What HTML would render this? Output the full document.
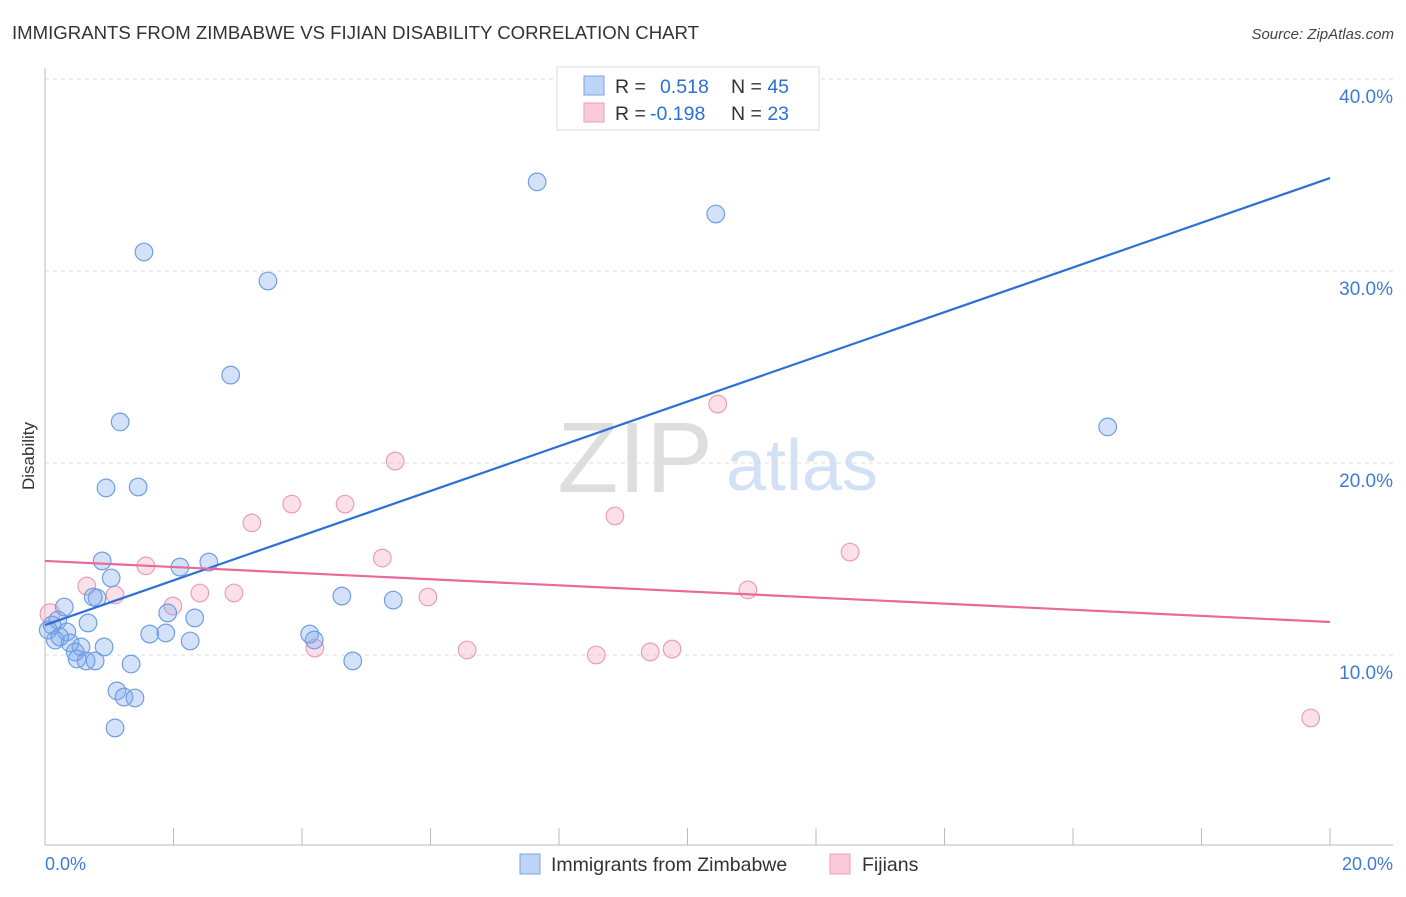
<!DOCTYPE html>
<html><head><meta charset="utf-8"><style>
body{margin:0;background:#fff;font-family:"Liberation Sans",sans-serif;}
svg text{font-family:"Liberation Sans",sans-serif;}
</style></head><body>
<svg id="chart" width="1406" height="892" viewBox="0 0 1406 892" xmlns="http://www.w3.org/2000/svg">
<text x="12" y="39" font-size="18.6" fill="#333">IMMIGRANTS FROM ZIMBABWE VS FIJIAN DISABILITY CORRELATION CHART</text>
<text x="1394" y="39" font-size="15" fill="#444" text-anchor="end" font-style="italic">Source: ZipAtlas.com</text>
<g>
<text x="635" y="492" font-size="100" fill="#dedede" text-anchor="middle" font-family="Liberation Serif,serif">ZIP</text>
<text x="802" y="490" font-size="72" fill="#d3e1f5" text-anchor="middle">atlas</text>
</g>
<g id="grid"></g>
<line x1="45" y1="68" x2="45" y2="845" stroke="#bbb" stroke-width="1"/>
<line x1="45" y1="845" x2="1393" y2="845" stroke="#bbb" stroke-width="1"/>
<g id="ticks"></g>
<text transform="translate(34,456) rotate(-90)" font-size="17" fill="#333" text-anchor="middle">Disability</text>
<text x="45" y="870" font-size="18" fill="#3d7bd8">0.0%</text>
<text x="1393" y="870" font-size="18" fill="#3d7bd8" text-anchor="end">20.0%</text>
<g id="points"></g>
<g id="lines"></g>
<g>
<rect x="557" y="67" width="262" height="63" fill="#fff" stroke="#ddd"/>
<rect x="584" y="76" width="20" height="19" fill="#bcd4f5" stroke="#7ba4e0"/>
<rect x="584" y="103" width="20" height="19" fill="#f9cad8" stroke="#eb9db7"/>
<text x="615" y="93" font-size="19.5" fill="#333">R = <tspan fill="#2a70d6" x="660">0.518</tspan><tspan x="731" fill="#333">N = </tspan><tspan fill="#2a70d6">45</tspan></text>
<text x="615" y="120" font-size="19.5" fill="#333">R = <tspan fill="#2a70d6" x="650">-0.198</tspan><tspan x="731" fill="#333">N = </tspan><tspan fill="#2a70d6">23</tspan></text>
</g>
<g>
<rect x="520" y="854" width="20" height="20" fill="#bcd4f5" stroke="#7ba4e0"/>
<text x="551" y="871" font-size="19.5" fill="#333">Immigrants from Zimbabwe</text>
<rect x="830" y="854" width="20" height="20" fill="#f9cad8" stroke="#eb9db7"/>
<text x="862" y="871" font-size="19.5" fill="#333">Fijians</text>
</g>
</svg>
<script>
const blueX=[7.66,10.44,1.54,3.47,2.89,1.17,0.95,1.45,16.54,0.89,2.55,2.10,1.03,0.81,0.75,0.30,1.91,2.33,0.67,0.11,0.20,4.62,5.42,1.63,1.88,4.12,4.19,0.34,0.92,2.26,0.39,0.56,0.16,0.23,0.47,0.50,0.64,0.78,1.34,4.79,1.12,1.23,1.40,1.09,0.05];
const blueY=[34.64,32.97,30.99,29.48,24.58,22.14,18.70,18.75,21.88,14.90,14.84,14.58,14.01,12.97,13.02,12.50,12.19,11.93,11.67,11.56,11.82,13.07,12.86,11.09,11.15,11.09,10.78,11.20,10.42,10.73,10.63,10.42,10.78,10.94,10.16,9.79,9.69,9.69,9.53,9.69,8.13,7.81,7.76,6.20,11.30];
const pinkX=[0.08,0.65,1.09,1.57,1.99,2.41,2.94,3.22,3.84,4.67,5.45,5.25,5.96,4.20,6.57,8.58,9.42,9.76,8.87,10.47,10.94,12.53,19.70];
const pinkY=[12.14,13.59,13.13,14.64,12.55,13.23,13.23,16.88,17.86,17.86,20.10,15.05,13.02,10.36,10.26,10.00,10.16,10.31,17.24,23.07,13.39,15.36,6.72];
const blueTrend=[11.56,34.84];
const pinkTrend=[14.90,11.72];
const yTicks=[10,20,30,40];
const yTickLabels=["10.0%","20.0%","30.0%","40.0%"];
const xTicks=[0,2,4,6,8,10,12,14,16,18,20];
const NS="http://www.w3.org/2000/svg";
const sx=v=>45+v*64.25;
const sy=v=>847-v*19.2;
function mk(tag,attrs,parent){const e=document.createElementNS(NS,tag);for(const k in attrs)e.setAttribute(k,attrs[k]);document.getElementById(parent).appendChild(e);return e;}
yTicks.forEach((t,i)=>{
 const l=mk('line',{x1:45,x2:1393,y1:sy(t),y2:sy(t),stroke:'#ddd','stroke-dasharray':'4,4'},'grid');
 
 
 const tx=mk('text',{x:1393,y:sy(t)+24,'font-size':19,fill:'#3d7bd8','text-anchor':'end'},'grid');
 tx.textContent=yTickLabels[i];
 
 
});
xTicks.forEach(t=>{
 const l=mk('line',{x1:sx(t),x2:sx(t),y1:828,y2:845,stroke:'#bbb'},'ticks');
 
 
});
pinkX.forEach((x,i)=>{
 const c=mk('circle',{cx:sx(x),cy:sy(pinkY[i]),r:i==0?10:8.8,fill:'rgba(244,160,190,0.32)',stroke:'#eb9db7','stroke-width':1.2},'points');
 
 
});
blueX.forEach((x,i)=>{
 const c=mk('circle',{cx:sx(x),cy:sy(blueY[i]),r:8.8,fill:'rgba(120,165,235,0.32)',stroke:'#6f9fe0','stroke-width':1.2},'points');
 
 
});
const bl=mk('line',{x1:sx(0),y1:sy(blueTrend[0]),x2:sx(20),y2:sy(blueTrend[1]),stroke:'#2a70d6','stroke-width':2.2},'lines');


const pl=mk('line',{x1:sx(0),y1:sy(pinkTrend[0]),x2:sx(20),y2:sy(pinkTrend[1]),stroke:'#e8699a','stroke-width':2.2},'lines');


</script>
</body></html>
